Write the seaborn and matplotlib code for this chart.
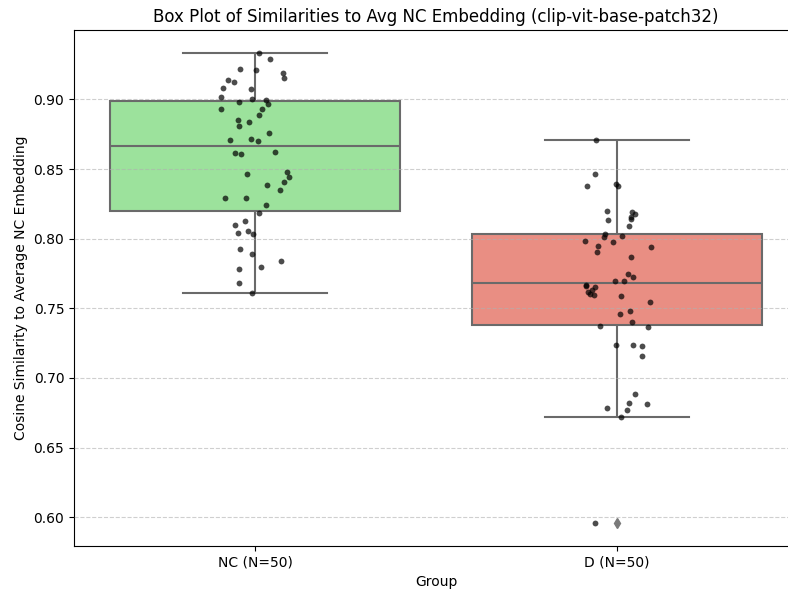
import numpy as np
import pandas as pd
import matplotlib
matplotlib.use("Agg")
import matplotlib.pyplot as plt
import seaborn as sns

# Cosine similarity of each subject's embedding to the average NC embedding
groups = ["NC (N=50)", "D (N=50)"]

nc_sim = [
    0.9330, 0.9291, 0.9216, 0.9211, 0.9190, 0.9151, 0.9137, 0.9123, 0.9084, 0.9077,
    0.9019, 0.9005, 0.8995, 0.8983, 0.8964, 0.8930, 0.8930, 0.8887, 0.8851, 0.8836,
    0.8812, 0.8762, 0.8714, 0.8712, 0.8704, 0.8623, 0.8606, 0.8616, 0.8466, 0.8476,
    0.8440, 0.8387, 0.8409, 0.8351, 0.8291, 0.8291, 0.8243, 0.8187, 0.8130, 0.8101,
    0.8055, 0.8034, 0.8041, 0.7923, 0.7887, 0.7837, 0.7798, 0.7783, 0.7680, 0.7613,
]

d_sim = [
    0.8712, 0.8461, 0.8380, 0.8380, 0.8394, 0.8197, 0.8190, 0.8180, 0.8159, 0.8144,
    0.8135, 0.8091, 0.8036, 0.8017, 0.8012, 0.7974, 0.7981, 0.7945, 0.7938, 0.7902,
    0.7866, 0.7747, 0.7726, 0.7695, 0.7695, 0.7668, 0.7659, 0.7651, 0.7635, 0.7620,
    0.7601, 0.7587, 0.7594, 0.7548, 0.7481, 0.7462, 0.7401, 0.7370, 0.7365, 0.7226,
    0.7240, 0.7238, 0.7159, 0.6885, 0.6820, 0.6810, 0.6767, 0.6788, 0.6723, 0.5962,
]

df = pd.DataFrame({
    "Group": [groups[0]] * len(nc_sim) + [groups[1]] * len(d_sim),
    "Similarity": nc_sim + d_sim,
})

fig = plt.figure(figsize=(7.88, 5.93), dpi=100)
ax = fig.add_axes([74 / 788, 47 / 593, 724 / 788, 516 / 593])

sns.boxplot(
    data=df, x="Group", y="Similarity", hue="Group", order=groups,
    palette=["lightgreen", "salmon"], saturation=0.75, width=0.8,
    linecolor="#6a6a6a", linewidth=1.5, legend=False, ax=ax,
    flierprops=dict(marker="d", markerfacecolor="#7a7a7a",
                    markeredgecolor="#7a7a7a", markersize=5),
)

np.random.seed(3)
sns.stripplot(
    data=df, x="Group", y="Similarity", order=groups, color="black",
    alpha=0.7, size=4.2, jitter=True, zorder=3, ax=ax,
)

# dashed guide lines drawn over the box faces
ax.set_axisbelow(False)
ax.grid(axis="y", linestyle="--", alpha=0.6)
ax.set_title("Box Plot of Similarities to Avg NC Embedding (clip-vit-base-patch32)",
             fontsize=12)
ax.set_xlabel("Group")
ax.set_ylabel("Cosine Similarity to Average NC Embedding")

fig.savefig("out.png", dpi=100)
